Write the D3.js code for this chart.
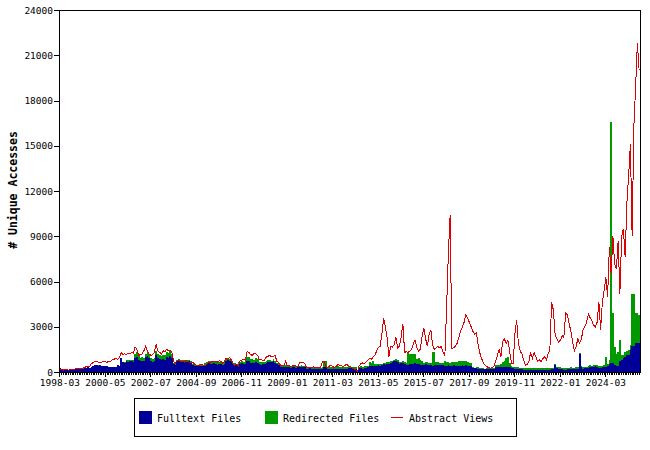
<!DOCTYPE html>
<meta charset="utf-8">
<style>
body { margin: 0; background: #fff; }
svg { font-family: "DejaVu Sans Mono", "Liberation Mono", monospace; }
</style>
<svg width="650" height="450"></svg>
<script src="https://d3js.org/d3.v7.min.js"></script>
<script>
// monthly counts, first month is 1998-03
var startYear = 1998, startMonth = 3;

var fulltext = [
  250,130,120,130,120,130,140,130,140,200,210,200,
  220,230,260,280,300,280,350,420,460,450,430,440,
  420,400,380,410,330,300,340,360,320,450,430,900,
  650,620,700,680,720,700,650,900,1000,800,700,750,
  700,1000,1050,950,700,650,720,1100,950,850,800,850,
  820,1000,950,1050,900,500,480,700,720,680,650,700,
  680,650,700,620,450,420,380,400,430,420,380,450,
  500,580,560,550,600,500,480,520,500,470,520,750,
  780,720,700,500,480,450,520,550,600,520,560,750,
  720,600,620,580,650,600,500,480,520,500,620,650,
  680,650,700,620,500,480,350,330,350,340,300,320,
  280,300,310,290,300,320,340,310,300,230,220,240,
  210,230,220,200,220,210,230,300,320,200,210,190,
  210,200,180,220,200,190,230,210,200,240,260,240,
  230,200,0,240,250,230,280,260,300,380,420,400,
  430,400,450,420,460,500,480,520,550,600,650,700,
  730,650,560,580,600,520,450,480,500,520,550,580,
  500,520,480,450,470,500,480,460,440,430,460,480,
  470,480,460,440,400,420,450,380,420,440,430,410,
  420,400,450,430,440,420,400,380,260,240,250,230,
  220,210,200,190,180,200,190,210,230,300,320,330,
  350,330,340,360,350,320,280,250,220,200,190,180,
  170,160,150,150,140,150,160,140,150,160,150,140,
  150,140,150,160,150,170,200,460,250,200,180,170,
  160,150,170,180,190,180,170,200,220,1200,300,220,
  240,260,280,350,300,320,380,330,260,280,300,350,
  350,400,500,600,600,450,400,400,700,800,900,1000,
  1100,1100,1450,1700,1700,1900,1900,1900
];

var redirected = [
  0,0,0,0,0,0,0,0,0,0,0,0,
  0,10,0,0,10,0,0,10,0,0,10,0,
  0,0,10,0,0,0,10,0,0,20,0,50,
  40,60,100,120,80,100,120,300,350,250,200,220,
  250,220,280,250,200,180,220,300,250,280,250,260,
  300,350,320,380,300,100,120,120,150,130,140,120,
  130,150,120,100,80,90,70,80,90,100,80,120,
  130,150,160,140,150,150,140,160,130,150,170,100,
  110,130,120,100,110,90,150,140,160,150,180,250,
  260,240,250,230,260,250,150,160,140,150,120,130,
  120,110,130,120,100,110,100,90,110,100,100,90,
  100,110,90,100,100,110,100,90,100,80,90,80,
  80,90,70,80,90,80,70,400,380,150,140,160,
  150,140,160,150,140,150,160,140,150,130,120,110,
  100,110,0,110,120,100,110,120,110,250,150,300,
  120,110,100,120,100,110,130,120,100,110,90,100,
  100,120,130,110,100,150,140,750,700,650,650,600,
  350,400,300,250,150,140,160,150,170,900,850,150,
  160,140,150,130,300,250,200,240,210,230,260,250,
  280,300,260,310,300,250,200,220,60,50,60,70,
  60,50,50,40,60,50,40,50,60,150,140,130,
  200,350,400,600,650,300,150,100,120,130,110,100,
  120,110,100,120,100,110,120,100,110,120,100,110,
  120,110,100,110,120,100,90,50,100,110,120,100,
  110,120,100,110,120,100,110,100,90,50,100,110,
  120,100,110,90,100,120,100,110,120,110,110,120,
  650,150,300,16000,3300,1200,800,900,1400,300,250,300,
  300,350,350,3500,3500,2000,2000,1900
];

var abstracts = [
  150,140,130,150,140,130,150,140,160,220,230,250,
  240,260,300,350,340,380,550,620,680,700,650,600,
  650,700,680,650,700,720,800,850,900,850,950,1300,
  1150,1200,1150,1250,1200,1300,1250,1650,1500,1100,1150,1200,
  1400,1700,1400,1200,1100,1150,1300,1850,1400,1300,1200,1400,
  1350,1500,1400,1450,1300,700,600,750,800,700,700,650,
  750,700,650,600,650,500,450,400,450,500,450,400,
  500,650,600,700,700,700,650,750,700,600,700,900,
  850,950,800,500,450,500,400,750,800,850,800,1350,
  1300,1150,1100,1250,1200,1100,800,850,750,800,1000,1050,
  1100,1000,1050,1100,700,650,450,400,450,700,400,450,
  350,400,450,400,350,600,600,650,550,300,280,320,
  300,350,300,280,300,320,700,700,350,300,400,450,
  350,300,400,500,450,400,350,450,500,400,350,250,
  200,180,20,400,550,600,550,650,800,900,850,1000,
  1100,1400,1650,1700,2500,3550,3000,2300,1000,1700,1650,1800,
  2300,1600,1700,2300,3200,1300,1350,1300,1400,1500,1900,2100,
  1600,1400,1500,2400,2900,2200,1700,2500,2800,1800,1500,1600,
  1700,1600,1700,1300,1100,4300,7900,10400,1550,1600,1700,1900,
  2300,2700,3000,3300,3800,3550,3300,3000,2700,2500,2600,1800,
  1250,900,600,450,350,300,250,300,350,700,1100,1500,
  1000,2000,2200,1900,2100,1400,600,550,2500,3450,1900,1400,
  1200,800,450,500,700,1300,900,1300,1000,700,800,700,
  900,1000,800,1200,1500,4650,4100,2500,2200,2000,2100,2400,
  2300,3900,3800,3200,2700,2000,1400,1700,2200,1900,2200,2800,
  3000,3300,3850,3600,3400,3100,3000,3300,4650,2800,4650,5400,
  6300,5000,8300,6500,9000,7200,6800,8700,5200,9000,9500,7600,
  11200,13000,15100,9000,16300,18900,21800,20000
];

var tickLabels = ["1998-03","2000-05","2002-07","2004-09","2006-11","2009-01",
  "2011-03","2013-05","2015-07","2017-09","2019-11","2022-01","2024-03"];
var yTicks = [0,3000,6000,9000,12000,15000,18000,21000,24000];

var seriesNames = ["Fulltext Files", "Redirected Files", "Abstract Views"];
var colors = ["#000099", "#009900", "#dd0000"];

// month labels
var months = fulltext.map(function(d, i) {
  var m = startMonth - 1 + i;
  return (startYear + Math.floor(m / 12)) + "-" + String(m % 12 + 1).padStart(2, "0");
});

var svg = d3.select("svg"),
    plotL = 59, plotT = 10, plotR = 640, plotB = 372;

var x = d3.scaleBand().domain(months).range([plotL, plotR]).padding(0);
var y = d3.scaleLinear().domain([0, 24000]).range([plotB, plotT]);

// stacked bars
var g = svg.append("g").attr("shape-rendering", "crispEdges");
g.selectAll(".ft")
  .data(months)
  .enter().append("rect")
    .attr("x", function(d) { return x(d); })
    .attr("width", x.bandwidth())
    .attr("y", function(d, i) { return y(fulltext[i]); })
    .attr("height", function(d, i) { return plotB - y(fulltext[i]); })
    .attr("fill", colors[0]);
g.selectAll(".rd")
  .data(months)
  .enter().append("rect")
    .attr("x", function(d) { return x(d); })
    .attr("width", x.bandwidth())
    .attr("y", function(d, i) { return y(fulltext[i] + redirected[i]); })
    .attr("height", function(d, i) { return y(fulltext[i]) - y(fulltext[i] + redirected[i]); })
    .attr("fill", colors[1]);

// abstract views line
var line = d3.line()
    .x(function(d, i) { return x(months[i]) + x.bandwidth() / 2; })
    .y(function(d) { return y(d); });
svg.append("path")
    .datum(abstracts)
    .attr("d", line)
    .attr("fill", "none")
    .attr("stroke", colors[2])
    .attr("stroke-width", 1)
    .attr("shape-rendering", "crispEdges");

// frame
svg.append("rect")
    .attr("x", plotL + 0.5).attr("y", plotT + 0.5)
    .attr("width", plotR - plotL).attr("height", plotB - plotT)
    .attr("fill", "none").attr("stroke", "#000")
    .attr("shape-rendering", "crispEdges");

// y axis
var yAxis = svg.append("g")
    .attr("transform", "translate(" + plotL + ",0)")
    .call(d3.axisLeft(y).tickValues(yTicks).tickSize(5).tickPadding(1).tickFormat(d3.format("d")));
yAxis.select(".domain").remove();
yAxis.selectAll("text").attr("font-size", 9.5).attr("font-family", "DejaVu Sans Mono").attr("fill", "#000");
yAxis.selectAll("line").attr("shape-rendering", "crispEdges");

// x axis: monthly minor ticks, labelled major ticks
var xMinor = svg.append("g")
    .attr("transform", "translate(0," + plotB + ")")
    .call(d3.axisBottom(x).tickSize(3).tickFormat(""));
xMinor.select(".domain").remove();
xMinor.selectAll("line").attr("shape-rendering", "crispEdges");

var xAxis = svg.append("g")
    .attr("transform", "translate(0," + plotB + ")")
    .call(d3.axisBottom(x).tickValues(tickLabels).tickSize(5).tickPadding(2.5));
xAxis.select(".domain").remove();
xAxis.selectAll("text").attr("font-size", 9.5).attr("font-family", "DejaVu Sans Mono").attr("fill", "#000");
xAxis.selectAll("line").attr("shape-rendering", "crispEdges");

// y title
svg.append("text")
    .attr("transform", "translate(17,190) rotate(-90)")
    .attr("text-anchor", "middle")
    .attr("font-size", 11.5)
    .attr("font-weight", "bold")
    .text("# Unique Accesses");

// legend
var legend = svg.append("g");
legend.append("rect")
    .attr("x", 134.5).attr("y", 398.5).attr("width", 382).attr("height", 38)
    .attr("fill", "#fff").attr("stroke", "#000");
var lx = [139, 265, 391];
legend.selectAll(".sw")
  .data([0, 1])
  .enter().append("rect")
    .attr("x", function(d) { return lx[d]; })
    .attr("y", 411).attr("width", 13).attr("height", 13)
    .attr("fill", function(d) { return colors[d]; });
legend.append("rect")
    .attr("x", lx[2]).attr("y", 417).attr("width", 12).attr("height", 1)
    .attr("fill", colors[2]);
legend.selectAll("text")
  .data(seriesNames)
  .enter().append("text")
    .attr("x", function(d, i) { return lx[i] + 18; })
    .attr("y", 421.5)
    .attr("font-size", 10)
    .text(function(d) { return d; });
</script>
